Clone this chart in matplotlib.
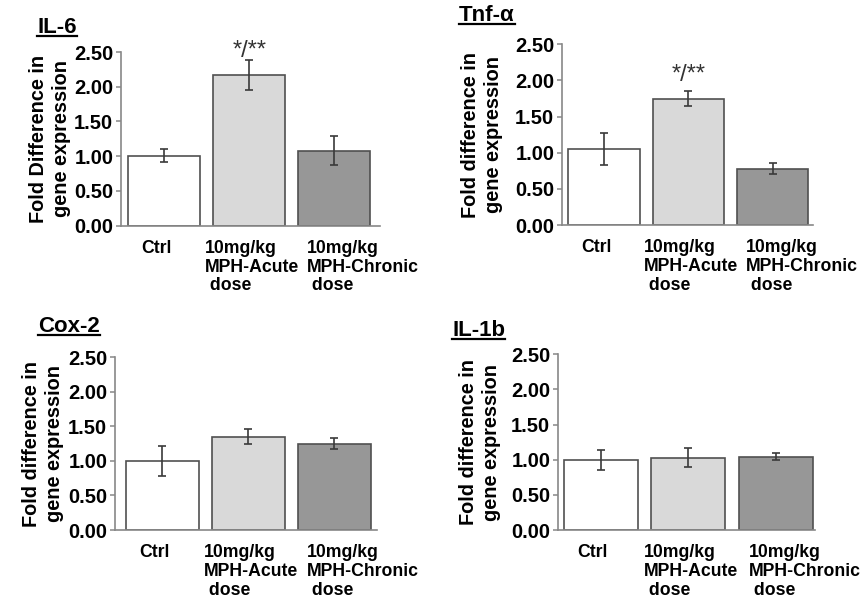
import matplotlib
matplotlib.use("Agg")
import matplotlib.pyplot as plt
from matplotlib.lines import Line2D
from matplotlib.transforms import ScaledTranslation

plt.rcParams['font.family'] = ['Liberation Sans', 'DejaVu Sans']

categories = ["Ctrl", "10mg/kg\nMPH-Acute\n dose", "10mg/kg\nMPH-Chronic\n dose"]
bar_colors = ["#ffffff", "#d9d9d9", "#979797"]
yticks = [0.0, 0.5, 1.0, 1.5, 2.0, 2.5]

il6_means = [1.01, 2.17, 1.08]
il6_err = [0.10, 0.21, 0.21]
tnf_means = [1.05, 1.75, 0.78]
tnf_err = [0.22, 0.11, 0.08]
cox2_means = [1.00, 1.35, 1.25]
cox2_err = [0.22, 0.11, 0.08]
il1b_means = [1.00, 1.03, 1.04]
il1b_err = [0.14, 0.14, 0.05]

titles = ["IL-6", "Tnf-\u03b1", "Cox-2", "IL-1b"]
ylabels = ["Fold Difference in\ngene expression",
           "Fold difference in\ngene expression",
           "Fold difference in\ngene expression",
           "Fold difference in\ngene expression"]
sig_marks = ["*/**", "*/**", "", ""]

W, H = 863, 599
fig = plt.figure(figsize=(W / 100, H / 100), dpi=100)

# pixel boxes: left, top, right, bottom
boxes = [(121, 52, 380, 225.7), (562, 44.3, 813, 225),
         (115, 357.3, 377, 530), (558, 354.3, 815, 530)]
xlims = [(-0.51, 2.54), (-0.50, 2.48), (-0.55, 2.50), (-0.49, 2.45)]
ylab_x = [-0.274, -0.319, -0.275, -0.304]
title_pos = [(37, 33), (459, 21), (38, 332), (452, 336)]
label_shift_px = [-8, 3, 29]
sig_offset_pt = [7, 11, 0, 0]

means_all = [il6_means, tnf_means, cox2_means, il1b_means]
err_all = [il6_err, tnf_err, cox2_err, il1b_err]

axes = []
for i in range(4):
    l, t, r, b = boxes[i]
    ax = fig.add_axes([l / W, 1 - b / H, (r - l) / W, (b - t) / H])
    axes.append(ax)
    x = list(range(len(categories)))
    ax.bar(x, means_all[i], width=0.85, color=bar_colors,
           edgecolor="#505050", linewidth=1.2, zorder=2)
    ax.errorbar(x, means_all[i], yerr=err_all[i], fmt="none",
                ecolor="#3a3a3a", elinewidth=1.2, capsize=2.6,
                capthick=1.2, zorder=3)
    ax.set_ylim(0, 2.5)
    ax.set_xlim(*xlims[i])
    ax.set_yticks(yticks)
    ax.set_yticklabels([f"{v:.2f}" for v in yticks], fontsize=14.5,
                       fontweight="bold")
    ax.tick_params(axis="x", length=0, pad=10)
    ax.tick_params(axis="y", length=3.5, width=1.1, color="#888888",
                   pad=2)
    ax.set_xticks(x)
    ax.set_xticklabels(categories, fontsize=12.7, fontweight="bold",
                       linespacing=1.15, va="top", ha="center",
                       multialignment="left")
    for lab, dx in zip(ax.get_xticklabels(), label_shift_px):
        lab.set_transform(lab.get_transform() +
                          ScaledTranslation(dx / 100, 0, fig.dpi_scale_trans))
    for s in ["top", "right"]:
        ax.spines[s].set_visible(False)
    for s in ["left", "bottom"]:
        ax.spines[s].set_color("#888888")
        ax.spines[s].set_linewidth(1.2)
    ax.set_ylabel(ylabels[i], fontsize=14.3, fontweight="bold",
                  linespacing=1.25, va="center")
    ax.yaxis.set_label_coords(ylab_x[i], 0.5)
    if sig_marks[i]:
        j = 1
        ax.annotate(sig_marks[i], xy=(j, means_all[i][j] + err_all[i][j]),
                    xytext=(0, sig_offset_pt[i]), textcoords="offset points",
                    ha="center", va="center", fontsize=17,
                    color="#333333", annotation_clip=False)

# titles with underline
fig.canvas.draw()
renderer = fig.canvas.get_renderer()
for i in range(4):
    tx, ty = title_pos[i]
    txt = fig.text(tx / W, 1 - ty / H, titles[i], fontsize=16,
                   fontweight="bold", ha="left", va="baseline")
    bb = txt.get_window_extent(renderer=renderer)
    yline = (1 - ty / H) - 3 / H
    fig.add_artist(Line2D([bb.x0 / W, bb.x1 / W], [yline, yline],
                          transform=fig.transFigure, color="black",
                          linewidth=1.6))

fig.savefig("out.png", dpi=100)
